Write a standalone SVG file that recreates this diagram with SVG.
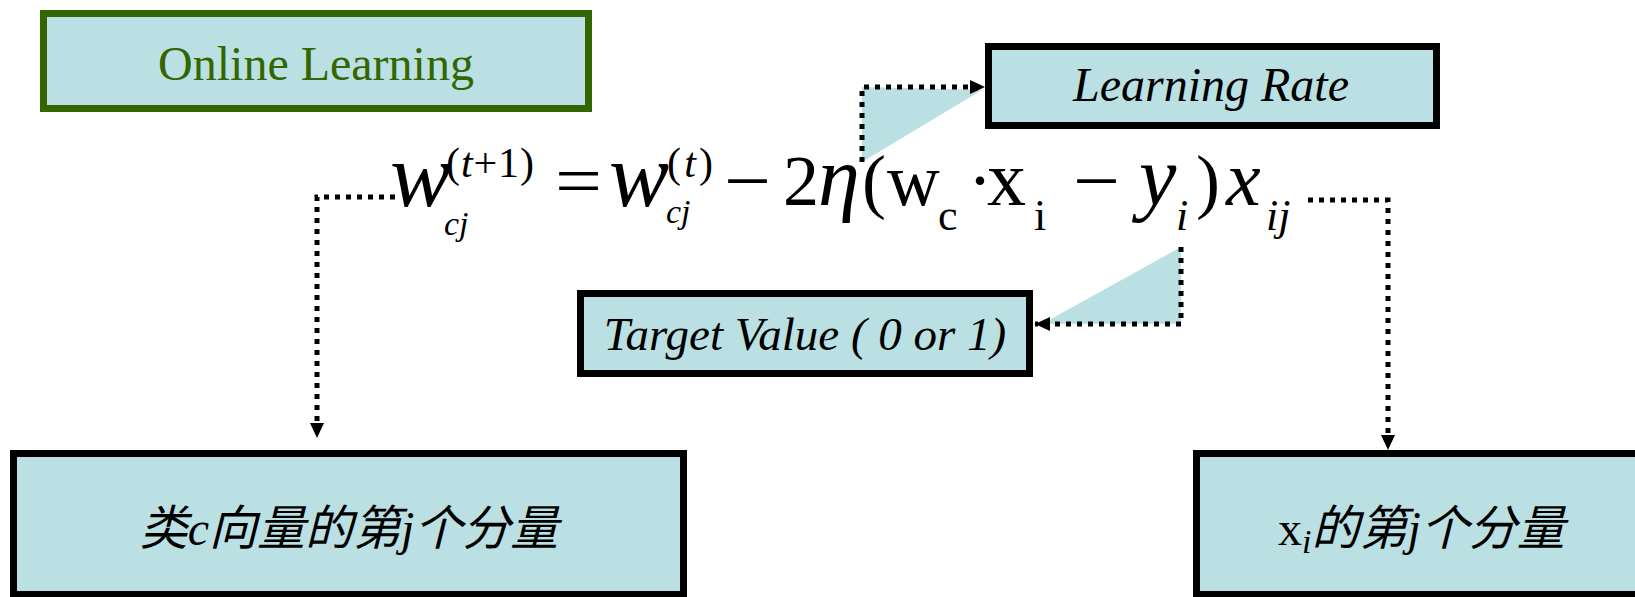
<svg xmlns="http://www.w3.org/2000/svg" width="1635" height="597" viewBox="0 0 1635 597">
<defs>
<style>
.box{fill:#bae0e3;stroke:#000;stroke-width:7}
.gbox{fill:#bae0e3;stroke:#336600;stroke-width:7}
.lbl{font-family:'Liberation Serif','Times New Roman','Noto Sans CJK SC',serif;font-size:48px;fill:#000}
.it{font-style:italic}
.m{font-family:'Liberation Serif','Times New Roman',serif;font-size:72px;fill:#000}
.sup{font-family:'Liberation Serif','Times New Roman',serif;font-size:42px;fill:#000}
.sub{font-family:'Liberation Serif','Times New Roman',serif;font-size:34px;fill:#000;font-style:italic}
.sub2{font-family:'Liberation Serif','Times New Roman',serif;font-size:44px;fill:#000}
.dot{fill:none;stroke:#000;stroke-width:5;stroke-dasharray:5 6}
.tri{fill:#bae0e3;stroke:none}
</style>
<marker id="ah" markerUnits="userSpaceOnUse" markerWidth="16" markerHeight="14" refX="15" refY="7" orient="auto">
<path d="M0,0 L15,7 L0,14 Z" fill="#000"/>
</marker>
</defs>
<rect width="1635" height="597" fill="#fff"/>

<g id="online-learning">
<rect class="gbox" x="43.5" y="13.5" width="545" height="95"/>
<text class="lbl" x="316" y="80" text-anchor="middle" style="fill:#336600">Online Learning</text>
</g>

<g id="learning-rate">
<rect class="box" x="988.5" y="46.5" width="448" height="79"/>
<text class="lbl it" x="1211" y="101" text-anchor="middle">Learning Rate</text>
</g>

<g id="target-value">
<rect class="box" x="580.5" y="293.5" width="449" height="80"/>
<text class="lbl it" x="805" y="350" text-anchor="middle" style="font-size:47px">Target Value ( 0 or 1)</text>
</g>

<g id="class-component">
<rect class="box" x="13.5" y="453.5" width="670" height="141"/>
<text class="lbl it" x="349" y="545" text-anchor="middle">类c向量的第j个分量</text>
</g>

<g id="xi-component">
<rect class="box" x="1196.5" y="453.5" width="500" height="141"/>
<text class="lbl" x="1278" y="545">x<tspan class="it" style="font-size:34px" dy="8">i</tspan><tspan class="it" dy="-8">的第j个分量</tspan></text>
</g>

<g id="formula">
<text class="m it" x="390" y="206" style="font-size:92px">w</text>
<text class="sup" x="446" y="177" textLength="88" lengthAdjust="spacing">(<tspan class="it">t</tspan>+1)</text>
<text class="sub" x="444" y="235">cj</text>
<text class="m" x="555" y="205" textLength="47" lengthAdjust="spacingAndGlyphs">=</text>
<text class="m it" x="609" y="206" style="font-size:90px">w</text>
<text class="sup" x="667" y="177" textLength="46" lengthAdjust="spacing">(<tspan class="it">t</tspan>)</text>
<text class="sub" x="666" y="223">cj</text>
<text class="m" x="724" y="205" textLength="47" lengthAdjust="spacingAndGlyphs">−</text>
<text class="m" x="783" y="205">2</text>
<text class="m it" x="818" y="205" style="font-size:84px">η</text>
<text class="m" x="862" y="205">(</text>
<text class="m" x="887" y="205" style="font-size:73px">w</text>
<text class="sub2" x="938" y="230">c</text>
<text class="m" x="968" y="205">·</text>
<text class="m" x="987" y="205" style="font-size:78px">x</text>
<text class="sub2" x="1034" y="230">i</text>
<text class="m" x="1073" y="205" textLength="47" lengthAdjust="spacingAndGlyphs">−</text>
<text class="m it" x="1139" y="205" style="font-size:84px">y</text>
<text class="sub2 it" x="1176" y="230">i</text>
<text class="m" x="1196" y="205">)</text>
<text class="m it" x="1226" y="205" style="font-size:78px">x</text>
<text class="sub2 it" x="1266" y="230">ij</text>
</g>

<g id="connectors">
<polygon class="tri" points="862,87 982,90 862,162"/>
<polygon class="tri" points="1181,247 1181,324 1042,324"/>
<path class="dot" d="M862,162 V87 H985" marker-end="url(#ah)"/>
<path class="dot" d="M1181,247 V324 H1035" marker-end="url(#ah)"/>
<path class="dot" d="M395,197 H317 V438" marker-end="url(#ah)"/>
<path class="dot" d="M1308,200 H1388 V450" marker-end="url(#ah)"/>
</g>
</svg>
